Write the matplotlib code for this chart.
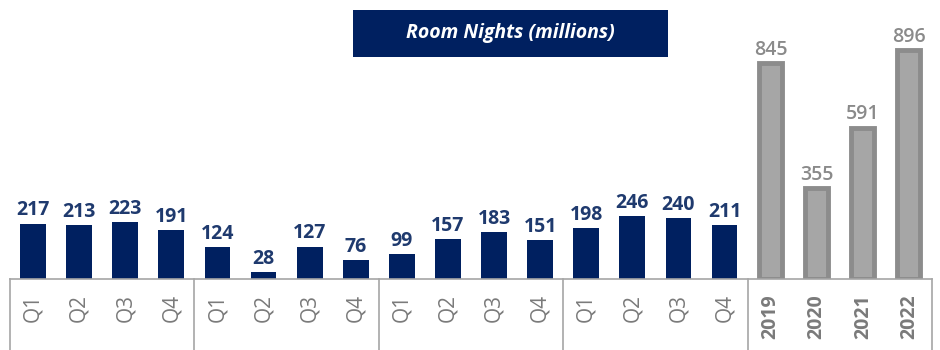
import matplotlib
matplotlib.use("Agg")
import matplotlib.pyplot as plt
import matplotlib.patches as patches
import matplotlib.transforms as mtransforms
import numpy as np

plt.rcParams['font.family'] = ['Open Sans', 'DejaVu Sans']

# quarterly room nights, four years of quarters, then annual totals
quarter_labels = ['Q1', 'Q2', 'Q3', 'Q4'] * 4
quarter_values = [217, 213, 223, 191, 124, 28, 127, 76, 99, 157, 183, 151, 198, 246, 240, 211]
year_labels = ['2019', '2020', '2021', '2022']
year_values = [845, 355, 591, 896]

navy = '#002060'
navy_text = '#1f3a6e'
grey_fill = '#a6a6a6'
grey_edge = '#8c8c8c'
grey_text = '#7a7a7a'
frame = '#a6a6a6'

fig = plt.figure(figsize=(9.4, 3.5), dpi=100)
ax = fig.add_axes([10 / 940, 71 / 350, 922 / 940, 279 / 350])

xq = np.arange(len(quarter_values))
xy = np.arange(len(year_values)) + len(quarter_values)

ax.bar(xq, quarter_values, width=0.56, color=navy, zorder=2)
ax.bar(xy, year_values, width=0.5, color=grey_fill, edgecolor=grey_edge, linewidth=3.5, zorder=2)

for x, v in zip(xq, quarter_values):
    ax.text(x, v + 12, str(v), ha='center', va='bottom', fontsize=14,
            fontweight='bold', color=navy_text)
for x, v in zip(xy, year_values):
    ax.text(x, v + 14, str(v), ha='center', va='bottom', fontsize=14,
            fontweight='semibold', color='#8a8a8a')

ax.set_xlim(-0.5, len(quarter_values) + len(year_values) - 0.5)
ax.set_ylim(0, 1092)

ax.set_xticks(np.concatenate([xq, xy]))
ax.set_xticklabels(quarter_labels + year_labels, rotation=90)
ax.tick_params(axis='x', length=0, pad=11, colors=grey_text, labelsize=15)
for lbl in ax.get_xticklabels()[len(quarter_values):]:
    lbl.set_fontweight('bold')
    lbl.set_fontsize(14)
ax.set_yticks([])

for s in ['top', 'left', 'right']:
    ax.spines[s].set_visible(False)
ax.spines['bottom'].set_color(frame)
ax.spines['bottom'].set_linewidth(1.2)

# group separators below the baseline
trans = mtransforms.blended_transform_factory(ax.transData, ax.transAxes)
for xs in [-0.5, 3.5, 7.5, 11.5, 15.5, 19.5]:
    ax.plot([xs, xs], [0, -0.3], color=frame, linewidth=1.2, transform=trans, clip_on=False)

# title box
fig.patches.append(patches.Rectangle((353 / 940, 1 - 57 / 350), 315 / 940, 47 / 350,
                                     transform=fig.transFigure, facecolor=navy,
                                     edgecolor='none', zorder=5))
fig.text(510 / 940, 1 - 33 / 350, 'Room Nights (millions)', ha='center', va='center',
         color='white', fontsize=14, fontweight='bold', fontstyle='italic', zorder=6)

fig.savefig('out.png', dpi=100)
